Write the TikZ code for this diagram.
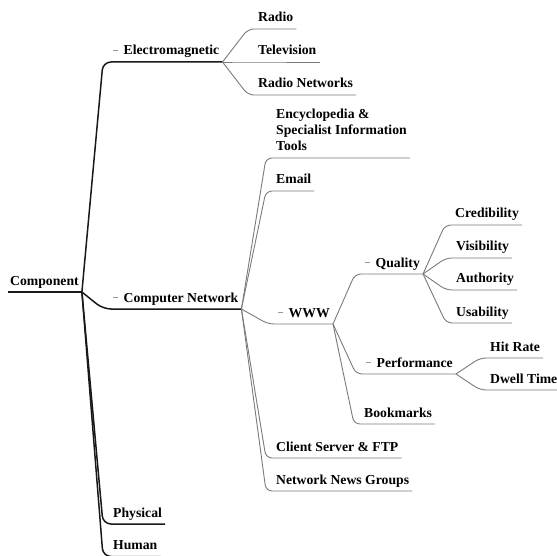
\documentclass[tikz,border=0pt]{standalone}
\usepackage{fontspec}
\setmainfont{Liberation Serif}
\definecolor{mainline}{rgb}{0.1,0.1,0.1}
\definecolor{subline}{rgb}{0.48,0.48,0.48}
\definecolor{dashgray}{rgb}{0.6,0.6,0.6}
% collapse marker shown before topics that have children
\newcommand{\foldmark}{\makebox[10.5pt][l]{\textcolor{dashgray}{\rule[4.5pt]{4.5pt}{0.8pt}}}}
% branch from a parent's underline end to a child, continuing as the child's underline
\newcommand{\linkto}[3][sub]{\draw[#1] ([xshift=3pt,yshift=-7pt]#2.base east) -- ([xshift=-10pt,yshift=-7pt]#3.base west) -- ([xshift=3pt,yshift=-7pt]#3.base east);}
\begin{document}
\begin{tikzpicture}[x=1pt,y=-1pt,
  topic/.style={font=\bfseries\fontsize{13.7}{16}\selectfont, inner sep=0pt, anchor=base west, text=black},
  main/.style={draw=mainline, line width=1.5pt, rounded corners=8pt},
  sub/.style={draw=subline, line width=0.9pt, rounded corners=6pt}]
\useasboundingbox (0,0) rectangle (557,556);

% topics
\node[topic] (root)  at (10,285)  {Component};
\node[topic] (em)    at (113,55)  {\foldmark Electromagnetic};
\node[topic] (cn)    at (113,302) {\foldmark Computer Network};
\node[topic] (phys)  at (113,517) {Physical};
\node[topic] (human) at (113,549.5) {Human};

\node[topic] (radio) at (258,22)  {Radio};
\node[topic] (tv)    at (258,55)  {Television};
\node[topic] (rnet)  at (258,88)  {Radio Networks};

\node[topic] (ency)  at (276,151) {\vbox{\hbox{Encyclopedia \&}\hbox{Specialist Information}\hbox{Tools}}};
\node[topic] (email) at (276,184) {Email};
\node[topic] (www)   at (278,317) {\foldmark WWW};
\node[topic] (csftp) at (276,451) {Client Server \& FTP};
\node[topic] (nng)   at (276,484) {Network News Groups};

\node[topic] (qual)  at (365,267) {\foldmark Quality};
\node[topic] (perf)  at (366,367) {\foldmark Performance};
\node[topic] (bookm) at (364,417) {Bookmarks};

\node[topic] (cred)  at (455,218) {Credibility};
\node[topic] (vis)   at (456,251) {Visibility};
\node[topic] (auth)  at (456,283) {Authority};
\node[topic] (usab)  at (456,316) {Usability};

\node[topic] (hit)   at (490,351) {Hit Rate};
\node[topic] (dwell) at (490,383) {Dwell Time};

% root underline
\draw[main] ([xshift=-2pt,yshift=-7pt]root.base west) -- ([xshift=2pt,yshift=-7pt]root.base east);

% first-level branches
\linkto[main]{root}{em}
\linkto[main]{root}{cn}
\linkto[main]{root}{phys}
\linkto[main]{root}{human}

% electromagnetic
\linkto{em}{radio}
\linkto{em}{tv}
\linkto{em}{rnet}

% computer network
\linkto{cn}{ency}
\linkto{cn}{email}
\linkto{cn}{www}
\linkto{cn}{csftp}
\linkto{cn}{nng}

% www
\linkto{www}{qual}
\linkto{www}{perf}
\linkto{www}{bookm}

% quality
\linkto{qual}{cred}
\linkto{qual}{vis}
\linkto{qual}{auth}
\linkto{qual}{usab}

% performance
\linkto{perf}{hit}
\linkto{perf}{dwell}
\end{tikzpicture}
\end{document}
